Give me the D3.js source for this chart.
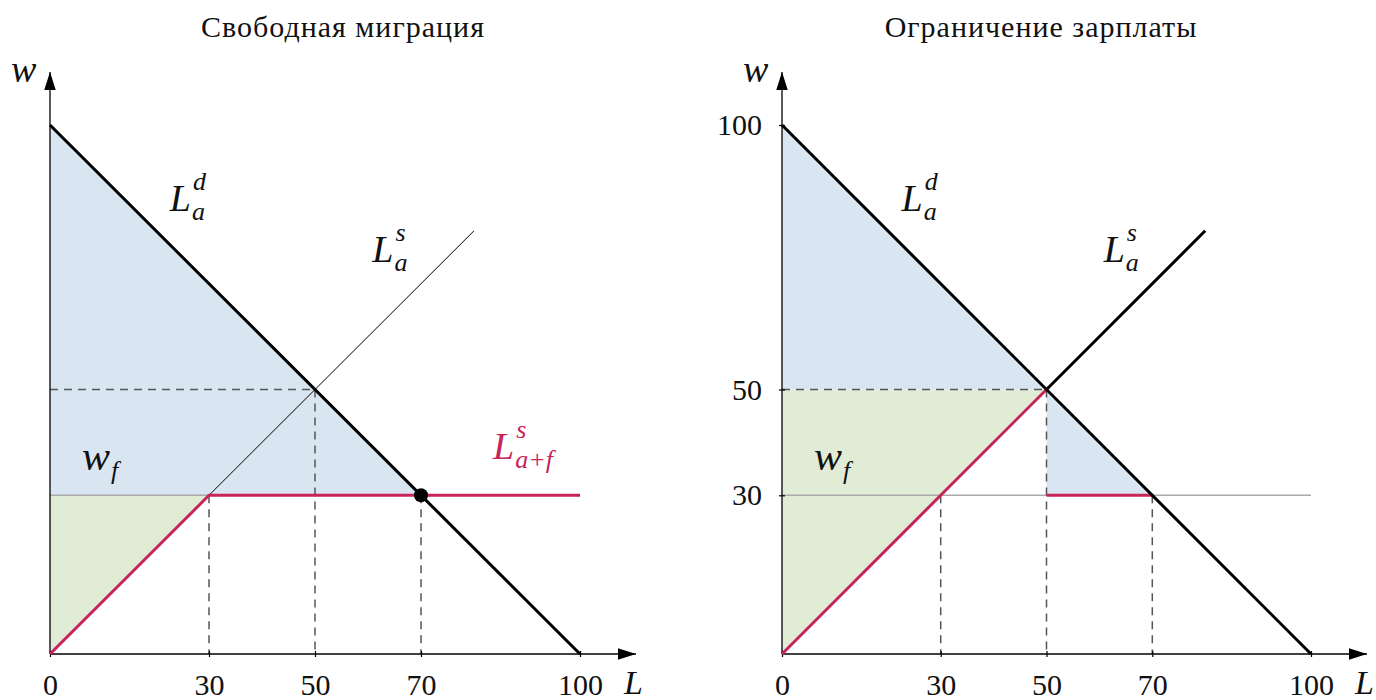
<!DOCTYPE html>
<html>
<head>
<meta charset="utf-8">
<script src="https://cdn.jsdelivr.net/npm/d3@7"></script>
<style>
  body { margin: 0; background: #fff; }
</style>
</head>
<body>
<svg width="1376" height="700"></svg>
<script>
// данные
var titles = ['Свободная миграция', 'Ограничение зарплаты']
var xTicks = [0, 30, 50, 70, 100]
var yTicksRight = [100, 50, 30]
var demand = [[0, 100], [100, 0]]
var supplyLeft = [[30, 30], [80, 80]]
var supplyRight = [[50, 50], [80, 80]]
var redLeft = [[0, 0], [30, 30], [100, 30]]
var redRightA = [[0, 0], [50, 50]]
var redRightB = [[50, 30], [70, 30]]
var blueLeft = [[0, 100], [70, 30], [0, 30]]
var greenLeft = [[0, 0], [30, 30], [0, 30]]
var blueRight = [[0, 100], [50, 50], [0, 50]]
var blueRight2 = [[50, 50], [70, 30], [50, 30]]
var greenRight = [[0, 0], [50, 50], [0, 50]]
var wf = 30
var eq = [70, 30]

var FONT = '"Liberation Serif", "DejaVu Serif", serif'
var svg = d3.select('svg')
var red = '#c8245a'

svg.append('defs').append('marker')
    .attr('id', 'arr').attr('viewBox', '0 0 10 10')
    .attr('refX', 10).attr('refY', 5)
    .attr('markerWidth', 18).attr('markerHeight', 18)
    .attr('markerUnits', 'userSpaceOnUse')
    .attr('orient', 'auto')
    .append('path').attr('d', 'M0,1.8 L10,5 L0,8.2 Z').attr('fill', '#000')

function panel(x0, x1, left, titleX) {
    var x = d3.scaleLinear().domain([0, 100]).range([x0, x1])
    var y = d3.scaleLinear().domain([0, 100]).range([654, 125])
    var g = svg.append('g')
    var line = d3.line().x(d => x(d[0])).y(d => y(d[1]))
    var poly = function (pts, fill) {
        g.append('path').attr('d', line(pts) + 'Z').attr('fill', fill)
    }
    var seg = function (pts, color, w, dash) {
        g.append('path').attr('d', line(pts)).attr('fill', 'none')
            .attr('stroke', color).attr('stroke-width', w)
            .attr('stroke-dasharray', dash || null)
    }

    // заливки
    if (left) {
        poly(blueLeft, '#dae5f2')
        poly(greenLeft, '#e0ecd5')
    } else {
        poly(blueRight, '#dae5f2')
        poly(blueRight2, '#dae5f2')
        poly(greenRight, '#e0ecd5')
    }

    // уровень w_f
    seg([[0, wf], [100, wf]], '#aaa', 1.5)

    // пунктир
    var dash = '8,6'
    seg([[0, 50], [50, 50]], '#555', 1.5, dash)
    seg([[50, 50], [50, 0]], '#555', 1.5, dash)
    seg([[30, 30], [30, 0]], '#555', 1.5, dash)
    seg([[70, 30], [70, 0]], '#555', 1.5, dash)

    // оси
    var xAxis = d3.axisBottom(x).tickValues(xTicks).tickSize(6).tickPadding(14)
    var ax = g.append('g').attr('transform', 'translate(0,654)').call(xAxis)
    ax.attr('font-family', FONT)
    ax.select('.domain').remove()
    ax.selectAll('.tick line').attr('transform', 'translate(0,-3)').attr('stroke-width', 1.2)
    ax.selectAll('.tick text').attr('font-size', 30).attr('dy', '0.71em').attr('fill', '#111')
    if (!left) {
        var yAxis = d3.axisLeft(y).tickValues(yTicksRight).tickSize(6).tickPadding(14)
        var ay = g.append('g').attr('transform', 'translate(' + x0 + ',0)').call(yAxis)
        ay.attr('font-family', FONT)
        ay.select('.domain').remove()
        ay.selectAll('.tick line').attr('transform', 'translate(3,0)').attr('stroke-width', 1.2)
        ay.selectAll('.tick text').attr('font-size', 30).attr('fill', '#111')
    }
    g.append('line').attr('x1', x0).attr('y1', y(0)).attr('x2', x(100) + 56).attr('y2', y(0))
        .attr('stroke', '#000').attr('stroke-width', 1.3).attr('marker-end', 'url(#arr)')
    g.append('line').attr('x1', x0).attr('y1', y(0)).attr('x2', x0).attr('y2', 72)
        .attr('stroke', '#000').attr('stroke-width', 1.3).attr('marker-end', 'url(#arr)')

    // кривые
    if (left) {
        seg(supplyLeft, '#000', 1)
        seg(redLeft, red, 3)
    } else {
        seg(supplyRight, '#000', 3)
        seg(redRightA, red, 3)
        seg(redRightB, red, 3)
    }
    seg(demand, '#000', 3)
    if (left) {
        g.append('circle').attr('cx', x(eq[0])).attr('cy', y(eq[1])).attr('r', 7).attr('fill', '#000')
    }

    // подписи
    g.append('text').attr('x', titleX).attr('y', 37).attr('text-anchor', 'middle')
        .attr('font-family', FONT).attr('font-size', 30).attr('letter-spacing', 1)
        .attr('fill', '#111')
        .text(titles[left ? 0 : 1])
    // математические подписи: основной символ, верхний и нижний индексы отдельными текстами
    var it = function (px, py, main, sub, sup, color, size) {
        color = color || '#111'
        var t = g.append('text').attr('x', px).attr('y', py).attr('font-style', 'italic')
            .attr('font-family', FONT).attr('font-size', size || 38).attr('fill', color).text(main)
        var w = t.node().getComputedTextLength()
        if (sup) g.append('text').attr('x', px + w + 2).attr('y', py - 21).attr('font-style', 'italic')
            .attr('font-family', FONT).attr('font-size', 26).attr('fill', color).text(sup)
        if (sub) g.append('text').attr('x', px + w + 1).attr('y', py + 9).attr('font-style', 'italic')
            .attr('font-family', FONT).attr('font-size', 26).attr('fill', color).text(sub)
    }
    it(x(22.6), 211, 'L', 'a', 'd')
    it(x(60.8), 262, 'L', 'a', 's')
    if (left) it(x(83.6), 459, 'L', 'a+f', 's', red)
    it(x0 + 32, 470, 'w', 'f', null, '#111', 42)
    it(x0 - 39, 82, 'w', null, null, '#111', 38)
    it(x(100) + 44, 694, 'L', null, null, '#111', 34)
}

panel(50, 580, true, 343)
panel(782, 1311, false, 1041)
</script>
</body>
</html>
